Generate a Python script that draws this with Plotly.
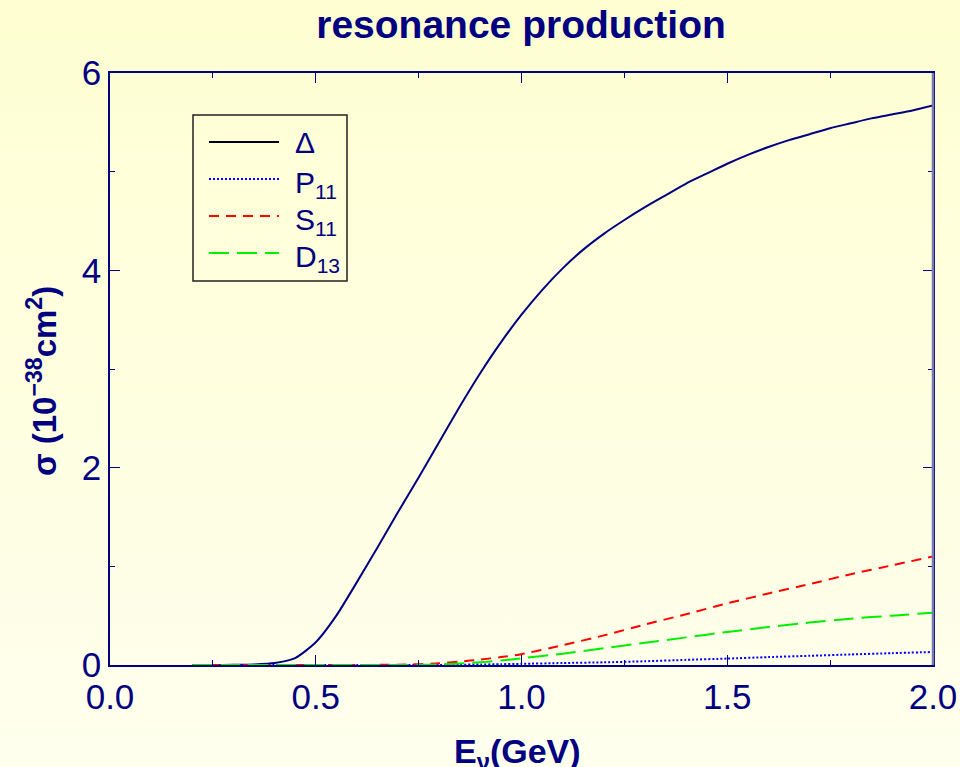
import base64
import plotly.graph_objects as go

# Neutrino energy grid (GeV) and cross sections (10^-38 cm^2)
e_delta = [0.20, 0.25, 0.30, 0.35, 0.40, 0.45, 0.50, 0.55, 0.60, 0.65, 0.70, 0.75,
           0.80, 0.85, 0.90, 0.95, 1.00, 1.05, 1.10, 1.15, 1.20, 1.25, 1.30, 1.35,
           1.40, 1.45, 1.50, 1.55, 1.60, 1.65, 1.70, 1.75, 1.80, 1.85, 1.90, 1.95, 2.00]
sigma_delta = [0.0, 0.0, 0.002, 0.006, 0.02, 0.07, 0.23, 0.50, 0.84, 1.19, 1.55, 1.90,
               2.26, 2.62, 2.96, 3.27, 3.55, 3.80, 4.02, 4.21, 4.37, 4.51, 4.64, 4.76,
               4.88, 4.98, 5.08, 5.17, 5.25, 5.32, 5.38, 5.44, 5.49, 5.54, 5.58, 5.62, 5.67]

e_other = [0.2, 0.3, 0.4, 0.5, 0.6, 0.7, 0.75, 0.8, 0.85, 0.9, 0.95, 1.0,
           1.1, 1.2, 1.3, 1.4, 1.5, 1.6, 1.7, 1.8, 1.9, 2.0]
sigma_p11 = [0, 0, 0, 0, 0, 0, 0, 0.001, 0.003, 0.005, 0.008, 0.012,
             0.02, 0.027, 0.038, 0.052, 0.065, 0.08, 0.093, 0.107, 0.12, 0.132]
sigma_s11 = [0, 0, 0, 0, 0, 0.003, 0.008, 0.018, 0.035, 0.055, 0.08, 0.11,
             0.20, 0.30, 0.41, 0.515, 0.625, 0.725, 0.82, 0.92, 1.01, 1.10]
sigma_d13 = [0, 0, 0, 0, 0, 0, 0.002, 0.006, 0.015, 0.028, 0.045, 0.068,
             0.115, 0.17, 0.225, 0.28, 0.335, 0.385, 0.43, 0.47, 0.50, 0.53]

x_ticks = [0.0, 0.5, 1.0, 1.5, 2.0]
y_ticks = [0, 2, 4, 6]

NAVY = "#000080"
FONT = "Liberation Sans, Arial, sans-serif"

W, H = 960, 767
L, R, T, B = 110, 27, 73, 102
PW, PH = W - L - R, H - T - B


def px(xp):
    return (xp - L) / PW


def py(yp):
    return (H - B - yp) / PH


fig = go.Figure()

series = [
    ("Δ", e_delta, sigma_delta, NAVY, "solid", "#000000"),
    ("P<sub>11</sub>", e_other, sigma_p11, "#0000ff", "2px,2px", "#0000ff"),
    ("S<sub>11</sub>", e_other, sigma_s11, "#ff0000", "10px,7px", "#ff0000"),
    ("D<sub>13</sub>", e_other, sigma_d13, "#00ee00", "20px,8px", "#00ee00"),
]

for name, xs, ys, col, dash, _ in series:
    fig.add_trace(go.Scatter(x=xs, y=ys, mode="lines", name=name,
                             line=dict(color=col, width=2, dash=dash,
                                       shape="spline", smoothing=0.6),
                             showlegend=False))

# Pale yellow vertical gradient behind everything
svg = ('<svg xmlns="http://www.w3.org/2000/svg" width="10" height="100" preserveAspectRatio="none">'
       '<defs><linearGradient id="g" x1="0" y1="0" x2="0" y2="1">'
       '<stop offset="0" stop-color="#fefed2"/><stop offset="1" stop-color="#ffffee"/>'
       '</linearGradient></defs><rect width="10" height="100" fill="url(#g)"/></svg>')
src = "data:image/svg+xml;base64," + base64.b64encode(svg.encode()).decode()

shapes = []
annotations = []

# Hand-built legend box
lx0, lx1, ly0, ly1 = 193, 347, 115, 281
shapes.append(dict(type="rect", xref="paper", yref="paper",
                   x0=px(lx0), x1=px(lx1), y0=py(ly1), y1=py(ly0),
                   line=dict(color="#222222", width=1.5), fillcolor="rgba(0,0,0,0)"))
row_y = [142, 179, 216, 253]
for (name, _, _, col, dash, lcol), yy in zip(series, row_y):
    shapes.append(dict(type="line", xref="paper", yref="paper",
                       x0=px(209), x1=px(279), y0=py(yy), y1=py(yy),
                       line=dict(color=lcol, width=2, dash=dash)))
    annotations.append(dict(text=name, xref="paper", yref="paper",
                            x=px(293), y=py(yy + (0 if name == "Δ" else 5)),
                            xanchor="left", yanchor="middle", showarrow=False,
                            font=dict(family=FONT, size=30, color=NAVY)))

# Right frame edge
shapes.append(dict(type="line", xref="paper", yref="paper", x0=1, x1=1, y0=0, y1=1,
                   line=dict(color="#7878b4", width=2.5)))

annotations.append(dict(text="<b>σ (10<sup>−38</sup>cm<sup>2</sup>)</b>",
                        xref="paper", yref="paper", x=px(42), y=py(381),
                        textangle=-90, showarrow=False, xanchor="center", yanchor="middle",
                        font=dict(family=FONT, size=33, color=NAVY)))
annotations.append(dict(text="<b>E<sub>ν</sub>(GeV)</b>",
                        xref="paper", yref="paper", x=px(517), y=py(754),
                        showarrow=False, xanchor="center", yanchor="middle",
                        font=dict(family=FONT, size=34, color=NAVY)))

axis_common = dict(
    showgrid=False, zeroline=False, showline=True, linecolor=NAVY, linewidth=1.5,
    mirror="ticks", ticks="inside", ticklen=10, tickwidth=1.2, tickcolor=NAVY,
    tickfont=dict(family=FONT, size=35, color=NAVY), automargin=False,
)

fig.update_layout(
    width=W, height=H, autosize=False,
    margin=dict(l=L, r=R, t=T, b=B, autoexpand=False),
    paper_bgcolor="#ffffe4", plot_bgcolor="rgba(0,0,0,0)",
    title=dict(text="<b>resonance production</b>", x=px(521), xref="paper",
               y=1 - 24 / H, yref="container", xanchor="center", yanchor="middle",
               font=dict(family=FONT, size=39, color=NAVY)),
    xaxis=dict(range=[0, 2], tickvals=x_ticks, ticktext=[f"{v:.1f}" for v in x_ticks],
               minor=dict(dtick=0.25, ticks="inside", ticklen=5, tickcolor=NAVY, tickwidth=1),
               **axis_common),
    yaxis=dict(range=[0, 6], tickvals=y_ticks, ticktext=[str(v) for v in y_ticks],
               minor=dict(dtick=1, ticks="inside", ticklen=5, tickcolor=NAVY, tickwidth=1),
               **axis_common),
    shapes=shapes,
    annotations=annotations,
    images=[dict(source=src, xref="paper", yref="paper", x=-L / PW, y=1 + T / PH,
                 sizex=W / PW, sizey=H / PH, sizing="stretch", layer="below",
                 xanchor="left", yanchor="top")],
)

fig.write_html("out.html")
